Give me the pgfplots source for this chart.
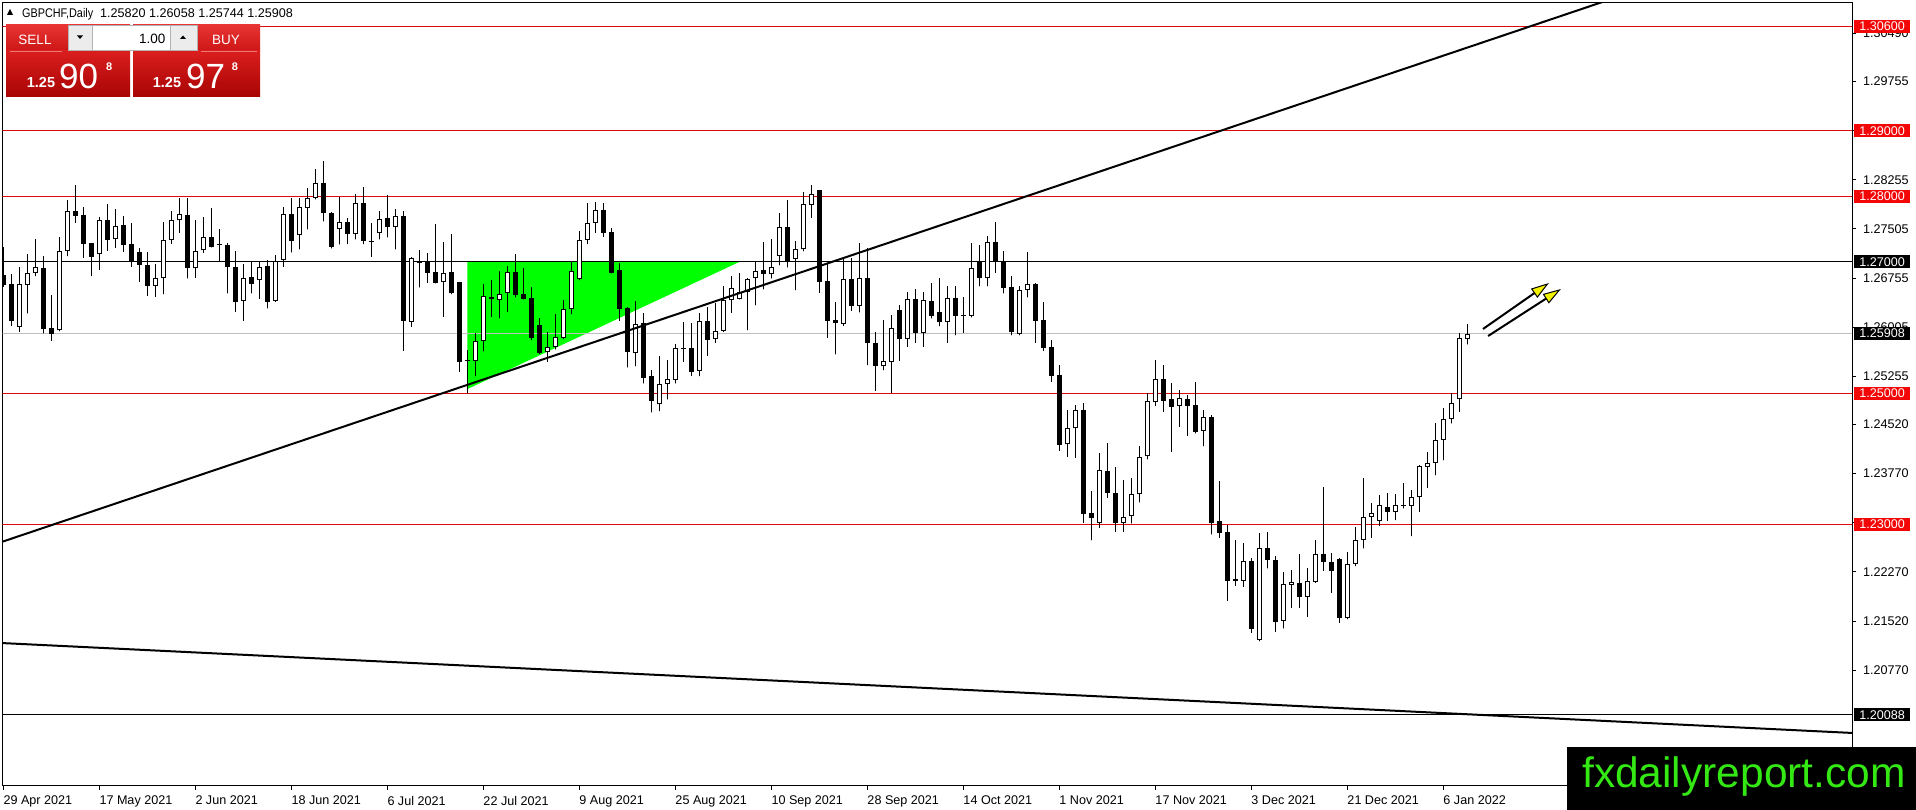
\documentclass[border=0pt]{standalone}
\usepackage{pgfplots}
\pgfplotsset{compat=1.18}
\usepackage{pgfplotstable}
\usepackage{graphicx}
\usepackage{fontspec}
\setmainfont{Liberation Sans}
\usetikzlibrary{arrows.meta}

\definecolor{mtred}{RGB}{225,10,10}
\definecolor{boxred}{RGB}{242,6,6}
\definecolor{tri}{RGB}{0,255,0}
\definecolor{bidgray}{RGB}{192,192,192}
\definecolor{wmgreen}{RGB}{52,232,20}
\definecolor{uptop}{RGB}{232,52,52}
\definecolor{upbot}{RGB}{205,22,22}
\definecolor{lotop}{RGB}{218,30,30}
\definecolor{lobot}{RGB}{168,4,4}
\definecolor{sepred}{RGB}{238,120,120}
\definecolor{arrowyel}{RGB}{240,240,0}

\pgfplotstableread{
i o h l c
-1 1.26801 1.27233 1.26623 1.26648
0 1.26664 1.26816 1.26028 1.26104
1 1.26012 1.26918 1.25936 1.26664
2 1.26643 1.27121 1.26216 1.26826
3 1.26826 1.27350 1.26786 1.26923
4 1.26908 1.27091 1.25910 1.25977
5 1.25987 1.26496 1.25799 1.25895
6 1.25956 1.27375 1.25946 1.27162
7 1.27162 1.27945 1.27091 1.27777
8 1.27777 1.28179 1.27599 1.27706
9 1.27716 1.27843 1.27065 1.27279
10 1.27289 1.27289 1.26786 1.27080
11 1.27116 1.27691 1.26882 1.27635
12 1.27640 1.27884 1.27172 1.27340
13 1.27345 1.27808 1.27218 1.27543
14 1.27564 1.27701 1.27157 1.27264
15 1.27274 1.27599 1.26928 1.27014
16 1.27152 1.27213 1.26699 1.26958
17 1.26953 1.27152 1.26485 1.26638
18 1.26638 1.26969 1.26470 1.26755
19 1.26750 1.27614 1.26511 1.27335
20 1.27330 1.27777 1.27279 1.27635
21 1.27635 1.27971 1.27447 1.27726
22 1.27716 1.27971 1.26750 1.26903
23 1.26903 1.27640 1.26760 1.27167
24 1.27177 1.27686 1.27141 1.27375
25 1.27381 1.27823 1.27223 1.27233
26 1.27276 1.27503 1.27014 1.27261
27 1.27258 1.27294 1.26521 1.26918
28 1.26918 1.27167 1.26241 1.26384
29 1.26399 1.26969 1.26104 1.26755
30 1.26770 1.27004 1.26521 1.26658
31 1.26719 1.26999 1.26440 1.26918
32 1.26938 1.27030 1.26292 1.26394
33 1.26409 1.27106 1.26394 1.27009
34 1.27025 1.27843 1.26928 1.27726
35 1.27731 1.27971 1.27147 1.27314
36 1.27406 1.27971 1.27192 1.27833
37 1.27818 1.28123 1.27498 1.27971
38 1.27971 1.28418 1.27955 1.28199
39 1.28204 1.28540 1.27620 1.27742
40 1.27747 1.27767 1.27208 1.27233
41 1.27498 1.27996 1.27269 1.27609
42 1.27609 1.27665 1.27274 1.27421
43 1.27421 1.28042 1.27345 1.27894
44 1.27899 1.28138 1.27274 1.27325
45 1.27327 1.27589 1.27080 1.27312
46 1.27436 1.27777 1.27345 1.27660
47 1.27670 1.28021 1.27375 1.27528
48 1.27528 1.27803 1.27192 1.27696
49 1.27696 1.27777 1.25646 1.26104
50 1.26089 1.27070 1.26012 1.27055
51 1.27002 1.27182 1.26613 1.26987
52 1.26999 1.27141 1.26684 1.26836
53 1.26842 1.27579 1.26674 1.26684
54 1.26689 1.27309 1.26165 1.26836
55 1.26842 1.27421 1.26511 1.26521
56 1.26689 1.26689 1.25326 1.25478
57 1.25497 1.25656 1.24995 1.25482
58 1.25494 1.25916 1.25260 1.25799
59 1.25799 1.26658 1.25636 1.26480
60 1.26465 1.26724 1.26165 1.26435
61 1.26414 1.26862 1.26140 1.26506
62 1.26521 1.26943 1.26241 1.26842
63 1.26847 1.27116 1.26460 1.26496
64 1.26506 1.26903 1.26430 1.26440
65 1.26445 1.26613 1.25809 1.25845
66 1.26033 1.26140 1.25595 1.25616
67 1.25621 1.25936 1.25478 1.25707
68 1.25707 1.26201 1.25667 1.25850
69 1.25845 1.26419 1.25824 1.26277
70 1.26277 1.27004 1.26206 1.26867
71 1.26735 1.27472 1.26724 1.27335
72 1.27335 1.27894 1.27274 1.27589
73 1.27599 1.27910 1.27447 1.27787
74 1.27787 1.27894 1.27386 1.27447
75 1.27452 1.27523 1.26826 1.26836
76 1.26872 1.26979 1.26104 1.26287
77 1.26292 1.26318 1.25392 1.25621
78 1.25606 1.26404 1.25412 1.26048
79 1.26063 1.26226 1.25148 1.25229
80 1.25260 1.25351 1.24705 1.24883
81 1.24827 1.25565 1.24726 1.25133
82 1.25133 1.25504 1.24904 1.25209
83 1.25199 1.25743 1.25148 1.25682
84 1.25682 1.26079 1.25478 1.25667
85 1.25682 1.26063 1.25265 1.25326
86 1.25341 1.26226 1.25260 1.26104
87 1.26094 1.26308 1.25570 1.25809
88 1.25819 1.26379 1.25768 1.25951
89 1.25951 1.26633 1.25936 1.26419
90 1.26419 1.26786 1.26226 1.26597
91 1.26440 1.26826 1.26430 1.26546
92 1.26546 1.26760 1.25961 1.26735
93 1.26750 1.27004 1.26343 1.26867
94 1.26872 1.27299 1.26582 1.26811
95 1.26811 1.27350 1.26750 1.26918
96 1.27096 1.27752 1.26953 1.27528
97 1.27528 1.27945 1.26918 1.27014
98 1.27040 1.27320 1.26572 1.27203
99 1.27192 1.28062 1.27167 1.27884
100 1.27864 1.28174 1.27676 1.28032
101 1.28098 1.28098 1.26531 1.26699
102 1.26709 1.26979 1.25845 1.26104
103 1.26114 1.26384 1.25590 1.26063
104 1.26058 1.27055 1.26028 1.26740
105 1.26740 1.27055 1.26257 1.26333
106 1.26333 1.27284 1.26231 1.26755
107 1.26760 1.27208 1.25428 1.25758
108 1.25768 1.25936 1.25036 1.25417
109 1.25417 1.26114 1.25351 1.25489
110 1.25478 1.26190 1.25005 1.25987
111 1.26267 1.26343 1.25494 1.25819
112 1.25819 1.26536 1.25707 1.26430
113 1.26435 1.26587 1.25768 1.25910
114 1.25911 1.26536 1.25707 1.26419
115 1.26404 1.26674 1.26139 1.26180
116 1.26231 1.26750 1.26023 1.26078
117 1.26078 1.26633 1.25768 1.26445
118 1.26445 1.26633 1.25885 1.26180
119 1.26195 1.26460 1.25921 1.26180
120 1.26180 1.27294 1.26155 1.26902
121 1.27009 1.27258 1.26633 1.26760
122 1.26750 1.27396 1.26633 1.27299
123 1.27299 1.27604 1.26836 1.26994
124 1.27004 1.27167 1.26521 1.26607
125 1.26612 1.26785 1.25885 1.25936
126 1.25895 1.26633 1.25885 1.26572
127 1.26572 1.27157 1.26460 1.26658
128 1.26658 1.26684 1.25768 1.26104
129 1.26114 1.26394 1.25646 1.25692
130 1.25707 1.25809 1.25173 1.25265
131 1.25275 1.25427 1.24120 1.24207
132 1.24217 1.24741 1.24029 1.24461
133 1.24461 1.24817 1.24014 1.24741
134 1.24741 1.24843 1.23022 1.23149
135 1.23164 1.23505 1.22757 1.23088
136 1.23022 1.24080 1.22945 1.23820
137 1.23810 1.24232 1.23403 1.23469
138 1.23469 1.23876 1.22884 1.23022
139 1.23022 1.23673 1.22884 1.23113
140 1.23123 1.23708 1.23012 1.23454
141 1.23454 1.24191 1.23332 1.24029
142 1.24039 1.24995 1.23988 1.24883
143 1.24868 1.25504 1.24807 1.25209
144 1.25209 1.25428 1.24716 1.24883
145 1.24904 1.25148 1.24105 1.24792
146 1.24807 1.25046 1.24487 1.24919
147 1.24904 1.24970 1.24349 1.24807
148 1.24817 1.25173 1.24385 1.24410
149 1.24426 1.24741 1.24192 1.24629
150 1.24639 1.24665 1.22844 1.23012
151 1.23047 1.23658 1.22793 1.22859
152 1.22874 1.22986 1.21832 1.22137
153 1.22162 1.22757 1.22061 1.22132
154 1.22132 1.22707 1.22045 1.22437
155 1.22437 1.22478 1.21344 1.21394
156 1.21232 1.22869 1.21216 1.22640
157 1.22630 1.22874 1.22325 1.22452
158 1.22452 1.22513 1.21359 1.21511
159 1.21521 1.22264 1.21410 1.22081
160 1.22075 1.22300 1.21725 1.22120
161 1.22096 1.22544 1.21725 1.21883
162 1.21883 1.22325 1.21588 1.22132
163 1.22122 1.22757 1.22106 1.22539
164 1.22539 1.23571 1.22290 1.22417
165 1.22417 1.22554 1.21954 1.22290
166 1.22468 1.22478 1.21496 1.21562
167 1.21562 1.22570 1.21550 1.22392
168 1.22386 1.22961 1.22361 1.22758
169 1.22758 1.23699 1.22630 1.23114
170 1.23114 1.23327 1.22793 1.23165
171 1.23053 1.23444 1.22976 1.23292
172 1.23266 1.23480 1.23053 1.23190
173 1.23190 1.23460 1.23063 1.23292
174 1.23292 1.23622 1.23241 1.23277
175 1.23282 1.23521 1.22819 1.23409
176 1.23409 1.23902 1.23190 1.23887
177 1.23877 1.24105 1.23556 1.23928
178 1.23938 1.24548 1.23749 1.24284
179 1.24284 1.24777 1.23978 1.24599
180 1.24599 1.25006 1.24538 1.24843
181 1.24904 1.25911 1.24716 1.25835
182 1.25820 1.26058 1.25744 1.25908
}\candles

\begin{document}
\begin{tikzpicture}[x=1pt,y=1pt]
\fontsize{12.6}{15}\selectfont
\useasboundingbox (0,0) rectangle (1916,810);
\fill[white] (0,0) rectangle (1916,810);
\begin{axis}[
  at={(2.7pt,24pt)}, anchor=south west,
  width=1849.3pt, height=783.3pt, scale only axis,
  xmin=-1.075, xmax=230.09, ymin=1.19004, ymax=1.30956,
  axis line style={black, line width=1pt},
  clip mode=individual,
  xtick={-1,11,23,...,179},
  xticklabels={29 Apr 2021,17 May 2021,2 Jun 2021,18 Jun 2021,6 Jul 2021,22 Jul 2021,9 Aug 2021,25 Aug 2021,10 Sep 2021,28 Sep 2021,14 Oct 2021,1 Nov 2021,17 Nov 2021,3 Dec 2021,21 Dec 2021,6 Jan 2022},
  ytick={1.30490,1.29755,1.29005,1.28255,1.27505,1.26755,1.26005,1.25255,1.24520,1.23770,1.23020,1.22270,1.21520,1.20770},
  yticklabels={1.30490,1.29755,1.29005,1.28255,1.27505,1.26755,1.26005,1.25255,1.24520,1.23770,1.23020,1.22270,1.21520,1.20770},
  xtick pos=bottom, ytick pos=right, yticklabel pos=right,
  tick align=outside, major tick length=4pt,
  tick style={black, line width=1pt},
  xticklabel style={font=\fontsize{12.6}{15}\selectfont, anchor=north west, inner sep=0pt, yshift=-6pt},
  yticklabel style={font=\fontsize{12.6}{15}\selectfont, anchor=west, inner sep=0pt, xshift=7pt},
  candle/.style={only marks, mark=*, mark size=0.01pt, mark options={draw=none, fill=none}},
]
% green triangle
\addplot[fill=tri, draw=none] coordinates {(57,1.27) (91,1.27) (57,1.2506)} -- cycle;
% horizontal levels
\addplot[mtred, line width=1pt] coordinates {(-5,1.306) (235,1.306)};
\addplot[mtred, line width=1pt] coordinates {(-5,1.29) (235,1.29)};
\addplot[mtred, line width=1pt] coordinates {(-5,1.28) (235,1.28)};
\addplot[mtred, line width=1pt] coordinates {(-5,1.25) (235,1.25)};
\addplot[mtred, line width=1pt] coordinates {(-5,1.23) (235,1.23)};
\addplot[black, line width=1pt] coordinates {(-5,1.27) (235,1.27)};
\addplot[black, line width=1pt] coordinates {(-5,1.20088) (235,1.20088)};
\addplot[bidgray, line width=1pt] coordinates {(-5,1.25908) (235,1.25908)};
% wicks
\addplot[candle, error bars/.cd, y dir=plus, y explicit, error mark=none,
  error bar style={draw=black, line width=1pt}]
  table[x=i, y=l, y error expr={\thisrow{h}-\thisrow{l}}] {\candles};
% bearish bodies
\addplot[candle, restrict expr to domain={\thisrow{c}-\thisrow{o}}{-1:0},
  error bars/.cd, y dir=plus, y explicit, error mark=none,
  error bar style={draw=black, line width=5pt}]
  table[x=i, y=c, y error expr={\thisrow{o}-\thisrow{c}}] {\candles};
% bullish bodies: outline then white inside
\addplot[candle, restrict expr to domain={\thisrow{c}-\thisrow{o}}{0:1},
  error bars/.cd, y dir=plus, y explicit, error mark=none,
  error bar style={draw=black, line width=5pt}]
  table[x=i, y=o, y error expr={\thisrow{c}-\thisrow{o}}] {\candles};
\addplot[candle, restrict expr to domain={\thisrow{c}-\thisrow{o}}{0.0002:1},
  error bars/.cd, y dir=plus, y explicit, error mark=none,
  error bar style={draw=white, line width=3pt, shorten <=1pt, shorten >=1pt}]
  table[x=i, y=o, y error expr={\thisrow{c}-\thisrow{o}}] {\candles};
% trend lines
\addplot[black, line width=2pt] coordinates {(-2,1.22695) (205,1.31218)};
\addplot[black, line width=2pt] coordinates {(-2,1.21190) (231,1.19808)};
% arrows
\draw[black, line width=2pt, -{Triangle[length=18pt,width=11pt,fill=arrowyel,line width=1pt]}]
  (axis cs:183.96,1.25977) -- (axis cs:192.2,1.26679);
\draw[black, line width=2pt, -{Triangle[length=18pt,width=11pt,fill=arrowyel,line width=1pt]}]
  (axis cs:184.6,1.25870) -- (axis cs:193.7,1.26587);
% anchors for price boxes
\coordinate (r1) at (axis cs:230.09,1.30600);
\coordinate (r2) at (axis cs:230.09,1.29000);
\coordinate (r3) at (axis cs:230.09,1.28000);
\coordinate (r4) at (axis cs:230.09,1.25000);
\coordinate (r5) at (axis cs:230.09,1.23000);
\coordinate (k1) at (axis cs:230.09,1.27000);
\coordinate (k2) at (axis cs:230.09,1.25908);
\coordinate (k3) at (axis cs:230.09,1.20088);
\end{axis}

% price boxes on the right scale
\tikzset{pbox/.style={anchor=west, xshift=2pt, inner sep=0pt, minimum width=56pt, minimum height=13pt, text=white, font=\fontsize{12.6}{15}\selectfont}}
\node[pbox, fill=boxred] at (r1) {1.30600};
\node[pbox, fill=boxred] at (r2) {1.29000};
\node[pbox, fill=boxred] at (r3) {1.28000};
\node[pbox, fill=boxred] at (r4) {1.25000};
\node[pbox, fill=boxred] at (r5) {1.23000};
\node[pbox, fill=black] at (k1) {1.27000};
\node[pbox, fill=black] at (k2) {1.25908};
\node[pbox, fill=black] at (k3) {1.20088};

% header
\fill[black] (7,795) -- (13,795) -- (10,801) -- cycle;
\node[anchor=base west, inner sep=0pt, font=\fontsize{12.6}{15}\selectfont] at (22,792.7) {\scalebox{0.86}[1]{GBPCHF,Daily}};
\node[anchor=base west, inner sep=0pt, font=\fontsize{12.6}{15}\selectfont] at (100,792.7) {1.25820 1.26058 1.25744 1.25908};

% trade widget
\shade[top color=uptop, bottom color=upbot] (6,759) rectangle (130,785);
\shade[top color=lotop, bottom color=lobot] (6,713) rectangle (130,759);
\shade[top color=uptop, bottom color=upbot] (133,759) rectangle (260,785);
\shade[top color=lotop, bottom color=lobot] (133,713) rectangle (260,759);
\draw[sepred, line width=1pt] (10,758) -- (62,758);
\draw[sepred, line width=1pt] (201,758) -- (257,758);
\draw[gray!60, fill=gray!15] (68,760) rectangle (92,785);
\draw[gray!60, fill=white] (92,760) rectangle (170.5,785);
\draw[gray!60, fill=gray!15] (170.5,760) rectangle (197,785);
\fill[black] (77,774.5) -- (83,774.5) -- (80,771) -- cycle;
\fill[black] (180,771) -- (186,771) -- (183,774.5) -- cycle;
\node[anchor=base east, inner sep=0pt, font=\fontsize{13.5}{15}\selectfont] at (165.5,766) {1.00};
\node[anchor=base, inner sep=0pt, text=white, font=\fontsize{13.5}{15}\selectfont] at (35,765.7) {SELL};
\node[anchor=base, inner sep=0pt, text=white, font=\fontsize{13.5}{15}\selectfont] at (226,765.7) {BUY};
\node[anchor=base west, inner sep=0pt, text=white, font=\bfseries\fontsize{14.5}{16}\selectfont] at (26.7,722.7) {1.25};
\node[anchor=base west, inner sep=0pt, text=white, font=\fontsize{35}{36}\selectfont] at (59,721.7) {90};
\node[anchor=base west, inner sep=0pt, text=white, font=\bfseries\fontsize{11}{12}\selectfont] at (106,739.3) {8};
\node[anchor=base west, inner sep=0pt, text=white, font=\bfseries\fontsize{14.5}{16}\selectfont] at (152.7,722.7) {1.25};
\node[anchor=base west, inner sep=0pt, text=white, font=\fontsize{35}{36}\selectfont] at (186,721.7) {97};
\node[anchor=base west, inner sep=0pt, text=white, font=\bfseries\fontsize{11}{12}\selectfont] at (231.7,739.3) {8};

% watermark
\fill[black] (1567,0) rectangle (1916,63);
\node[anchor=base west, inner sep=0pt, text=wmgreen, font=\fontsize{42.5}{44}\selectfont] at (1582,22) {fxdailyreport.com};
\end{tikzpicture}
\end{document}
